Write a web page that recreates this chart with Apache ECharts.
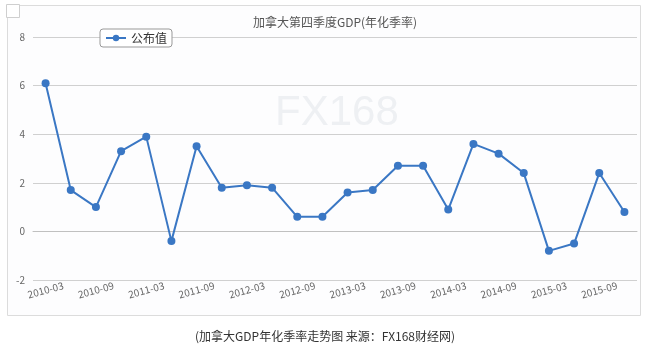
<!DOCTYPE html>
<html>
<head>
<meta charset="utf-8">
<script src="https://cdn.jsdelivr.net/npm/echarts@6/dist/echarts.min.js"></script>
<style>
  html, body { margin: 0; padding: 0; background: #fff; }
  #chart { width: 650px; height: 351px; }
</style>
</head>
<body>
<div id="chart"></div>
<script>
  // quarterly categories, 2010-03 .. 2015-12
  const quarters = [
    '2010-03', '2010-06', '2010-09', '2010-12',
    '2011-03', '2011-06', '2011-09', '2011-12',
    '2012-03', '2012-06', '2012-09', '2012-12',
    '2013-03', '2013-06', '2013-09', '2013-12',
    '2014-03', '2014-06', '2014-09', '2014-12',
    '2015-03', '2015-06', '2015-09', '2015-12'
  ];
  const gdpValues = [
    6.1, 1.7, 1.0, 3.3,
    3.9, -0.4, 3.5, 1.8,
    1.9, 1.8, 0.6, 0.6,
    1.6, 1.7, 2.7, 2.7,
    0.9, 3.6, 3.2, 2.4,
    -0.8, -0.5, 2.4, 0.8
  ];
  const yTicks = [-2, 0, 2, 4, 6, 8];

  const font = '"Noto Sans CJK SC", "Liberation Sans", sans-serif';
  const chart = echarts.init(document.getElementById('chart'));

  chart.setOption({
    animation: false,
    title: {
      text: '加拿大第四季度GDP(年化季率)',
      left: 330,
      textAlign: 'center',
      top: 11,
      textStyle: { fontSize: 12, fontWeight: 'normal', color: '#555', fontFamily: font },
    },
    legend: {
      data: ['公布值'],
      left: 100,
      top: 29,
      padding: [3, 5, 3, 5],
      itemGap: 4,
      itemWidth: 20,
      itemHeight: 8,
      borderColor: '#999',
      borderWidth: 1,
      borderRadius: 3,
      backgroundColor: '#fff',
      textStyle: { fontSize: 12, color: '#333', fontFamily: font },
    },
    graphic: [
      {
        type: 'rect', z: -10, silent: true,
        shape: { x: 7.5, y: 5.5, width: 633, height: 310 },
        style: { fill: '#fdfdfe', stroke: '#dcdcdc', lineWidth: 1 },
      },
      {
        type: 'rect', z: -9, silent: true,
        shape: { x: 6.5, y: 4.5, width: 13, height: 13 },
        style: { fill: '#fff', stroke: '#cfcfcf', lineWidth: 1 },
      },
      {
        type: 'text', z: -5, silent: true,
        left: 275, top: 92,
        style: { text: 'FX168', fontSize: 42, fill: '#eef0f3', fontFamily: '"Liberation Sans", sans-serif' },
      },
      {
        type: 'text', silent: true,
        left: 'center', top: 330,
        style: { text: '(加拿大GDP年化季率走势图 来源：FX168财经网)', fontSize: 12, fill: '#333', fontFamily: font },
      },
    ],
    grid: { left: 33, right: 13, top: 37, bottom: 71 },
    xAxis: {
      type: 'category',
      data: quarters,
      boundaryGap: true,
      axisLine: { lineStyle: { color: '#c0c0c0' } },
      axisTick: { interval: 1, length: 5, lineStyle: { color: '#c0c0c0' } },
      axisLabel: {
        interval: 1,
        rotate: 15,
        align: 'center',
        margin: 10,
        fontSize: 10,
        color: '#666',
        fontFamily: font,
      },
    },
    yAxis: {
      type: 'value',
      min: yTicks[0],
      max: yTicks[yTicks.length - 1],
      interval: 2,
      axisLine: { show: false },
      axisTick: { show: false },
      axisLabel: { fontSize: 10, color: '#666', margin: 8, fontFamily: font },
      splitLine: { lineStyle: { color: '#d0d0d0' } },
    },
    series: [
      {
        name: '公布值',
        type: 'line',
        data: gdpValues,
        symbol: 'circle',
        symbolSize: 8,
        lineStyle: { color: '#3a77c4', width: 2 },
        itemStyle: { color: '#3a77c4' },
      },
    ],
  });
</script>
</body>
</html>
